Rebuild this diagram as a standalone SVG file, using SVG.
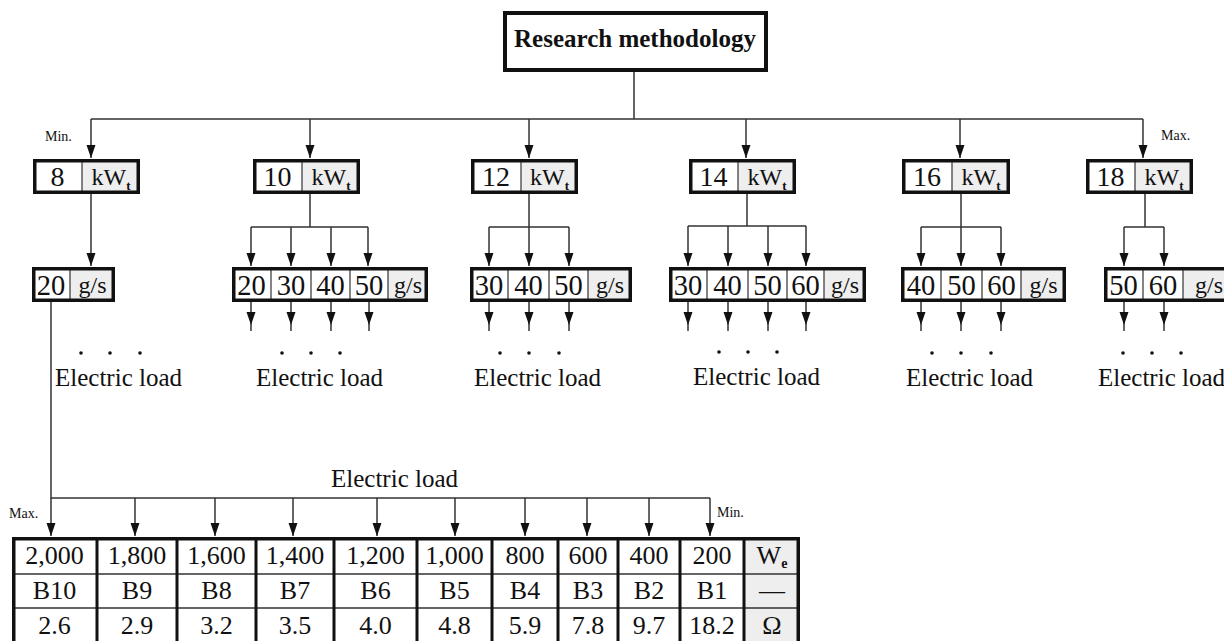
<svg xmlns="http://www.w3.org/2000/svg" width="1224" height="641" viewBox="0 0 1224 641">
<style>
.ln{stroke:#333;stroke-width:1.5;fill:none}
.bd{fill:none;stroke:#111;stroke-width:3.5}
.dv{stroke:#333;stroke-width:1.2}
.gr{fill:#eeeeee}
.t{font-family:"Liberation Serif","Times New Roman",serif;fill:#111;text-anchor:middle}
.n{font-size:28px}
.g{font-size:28.5px}
.u{font-size:24px}
.s{font-size:13px;font-weight:bold}
.el{font-family:"Liberation Serif","Times New Roman",serif;fill:#111;font-size:25px}
.sm{font-family:"Liberation Serif","Times New Roman",serif;fill:#111;font-size:14px}
.tb{font-size:26px}
.dot{fill:#111}
</style>
<defs>
<marker id="a" markerUnits="userSpaceOnUse" orient="auto" refX="13" refY="0" markerWidth="14" markerHeight="10" overflow="visible"><path d="M0,-4.5 L13,0 L0,4.5 z" fill="#111"/></marker>
<marker id="ad" markerUnits="userSpaceOnUse" orient="auto" refX="19" refY="0" markerWidth="14" markerHeight="10" overflow="visible"><path d="M0,-4.5 L13,0 L0,4.5 z" fill="#111"/></marker>
</defs>
<rect width="1224" height="641" fill="#fff"/>

<g id="connectors">
<path class="ln" d="M634,72 V119 M91,119 H1143"/>
<path class="ln" marker-end="url(#a)" d="M91,119 V158"/>
<path class="ln" marker-end="url(#a)" d="M310,119 V158"/>
<path class="ln" marker-end="url(#a)" d="M529,119 V158"/>
<path class="ln" marker-end="url(#a)" d="M746,119 V158"/>
<path class="ln" marker-end="url(#a)" d="M960,119 V158"/>
<path class="ln" marker-end="url(#a)" d="M1143,119 V158"/>
<path class="ln" marker-end="url(#a)" d="M91,194 V266"/>
<path class="ln" d="M310,194 V227 M251,227 H368"/>
<path class="ln" marker-end="url(#a)" d="M251,227 V266"/>
<path class="ln" marker-end="url(#a)" d="M291,227 V266"/>
<path class="ln" marker-end="url(#a)" d="M331,227 V266"/>
<path class="ln" marker-end="url(#a)" d="M368,227 V266"/>
<path class="ln" d="M529,194 V227 M489,227 H569"/>
<path class="ln" marker-end="url(#a)" d="M489,227 V266"/>
<path class="ln" marker-end="url(#a)" d="M529,227 V266"/>
<path class="ln" marker-end="url(#a)" d="M569,227 V266"/>
<path class="ln" d="M747,194 V226 M688,226 H806"/>
<path class="ln" marker-end="url(#a)" d="M688,226 V266"/>
<path class="ln" marker-end="url(#a)" d="M728,226 V266"/>
<path class="ln" marker-end="url(#a)" d="M768,226 V266"/>
<path class="ln" marker-end="url(#a)" d="M806,226 V266"/>
<path class="ln" d="M961,194 V227 M921,227 H1001"/>
<path class="ln" marker-end="url(#a)" d="M921,227 V266"/>
<path class="ln" marker-end="url(#a)" d="M961,227 V266"/>
<path class="ln" marker-end="url(#a)" d="M1001,227 V266"/>
<path class="ln" d="M1145,194 V227 M1124,227 H1164"/>
<path class="ln" marker-end="url(#a)" d="M1124,227 V266"/>
<path class="ln" marker-end="url(#a)" d="M1164,227 V266"/>
<g>
<path class="ln" marker-end="url(#ad)" d="M251,302 V331"/>
<path class="ln" marker-end="url(#ad)" d="M291,302 V331"/>
<path class="ln" marker-end="url(#ad)" d="M331,302 V331"/>
<path class="ln" marker-end="url(#ad)" d="M369,302 V331"/>
<path class="ln" marker-end="url(#ad)" d="M489,302 V331"/>
<path class="ln" marker-end="url(#ad)" d="M529,302 V331"/>
<path class="ln" marker-end="url(#ad)" d="M569,302 V331"/>
<path class="ln" marker-end="url(#ad)" d="M688,302 V331"/>
<path class="ln" marker-end="url(#ad)" d="M728,302 V331"/>
<path class="ln" marker-end="url(#ad)" d="M768,302 V331"/>
<path class="ln" marker-end="url(#ad)" d="M806,302 V331"/>
<path class="ln" marker-end="url(#ad)" d="M921,302 V331"/>
<path class="ln" marker-end="url(#ad)" d="M961,302 V331"/>
<path class="ln" marker-end="url(#ad)" d="M1001,302 V331"/>
<path class="ln" marker-end="url(#ad)" d="M1124,302 V331"/>
<path class="ln" marker-end="url(#ad)" d="M1164,302 V331"/>
</g>
<path class="ln" d="M51,302 V498 H710"/>
<path class="ln" marker-end="url(#a)" d="M51,498 V536"/>
<path class="ln" marker-end="url(#a)" d="M135,498 V536"/>
<path class="ln" marker-end="url(#a)" d="M215,498 V536"/>
<path class="ln" marker-end="url(#a)" d="M293,498 V536"/>
<path class="ln" marker-end="url(#a)" d="M377,498 V536"/>
<path class="ln" marker-end="url(#a)" d="M455,498 V536"/>
<path class="ln" marker-end="url(#a)" d="M525,498 V536"/>
<path class="ln" marker-end="url(#a)" d="M587,498 V536"/>
<path class="ln" marker-end="url(#a)" d="M649,498 V536"/>
<path class="ln" marker-end="url(#a)" d="M710,498 V536"/>
</g>

<g id="root">
<rect x="505" y="13" width="261" height="57" fill="#fff" stroke="#111" stroke-width="4"/>
<text class="t" x="635" y="47" font-size="25" font-weight="bold">Research methodology</text>
</g>

<g id="kw8">
<rect class="gr" x="82" y="159" width="58" height="35"/>
<line class="dv" x1="82" y1="159" x2="82" y2="194"/>
<rect class="bd" x="34.75" y="160.75" width="103.5" height="31.5"/>
<text class="t n" x="57.5" y="186">8</text>
<text class="t u" x="111" y="185">kW<tspan class="s" dy="5">t</tspan></text>
</g>
<g id="kw10">
<rect class="gr" x="302" y="159" width="58" height="35"/>
<line class="dv" x1="302" y1="159" x2="302" y2="194"/>
<rect class="bd" x="254.75" y="160.75" width="103.5" height="31.5"/>
<text class="t n" x="277.5" y="186">10</text>
<text class="t u" x="331" y="185">kW<tspan class="s" dy="5">t</tspan></text>
</g>
<g id="kw12">
<rect class="gr" x="521" y="159" width="57" height="35"/>
<line class="dv" x1="521" y1="159" x2="521" y2="194"/>
<rect class="bd" x="472.75" y="160.75" width="103.5" height="31.5"/>
<text class="t n" x="496" y="186">12</text>
<text class="t u" x="549.5" y="185">kW<tspan class="s" dy="5">t</tspan></text>
</g>
<g id="kw14">
<rect class="gr" x="738" y="159" width="58" height="35"/>
<line class="dv" x1="738" y1="159" x2="738" y2="194"/>
<rect class="bd" x="690.75" y="160.75" width="103.5" height="31.5"/>
<text class="t n" x="713.5" y="186">14</text>
<text class="t u" x="767" y="185">kW<tspan class="s" dy="5">t</tspan></text>
</g>
<g id="kw16">
<rect class="gr" x="952" y="159" width="58" height="35"/>
<line class="dv" x1="952" y1="159" x2="952" y2="194"/>
<rect class="bd" x="903.75" y="160.75" width="104.5" height="31.5"/>
<text class="t n" x="927" y="186">16</text>
<text class="t u" x="981" y="185">kW<tspan class="s" dy="5">t</tspan></text>
</g>
<g id="kw18">
<rect class="gr" x="1135" y="159" width="58" height="35"/>
<line class="dv" x1="1135" y1="159" x2="1135" y2="194"/>
<rect class="bd" x="1087.75" y="160.75" width="103.5" height="31.5"/>
<text class="t n" x="1110.5" y="186">18</text>
<text class="t u" x="1164" y="185">kW<tspan class="s" dy="5">t</tspan></text>
</g>

<g id="gs8">
<rect class="gr" x="70" y="267" width="45" height="35"/>
<line class="dv" x1="70" y1="267" x2="70" y2="302"/>
<rect class="bd" x="33.75" y="268.75" width="79.5" height="31.5"/>
<text class="t g" x="51" y="295">20</text>
<text class="t u" x="92.5" y="293">g/s</text>
</g>
<g id="gs10">
<rect class="gr" x="388" y="267" width="40" height="35"/>
<path class="dv" d="M271,267 V302 M311,267 V302 M350,267 V302 M388,267 V302"/>
<rect class="bd" x="233.75" y="268.75" width="192.5" height="31.5"/>
<text class="t g" x="251.5" y="295">20</text>
<text class="t g" x="291" y="295">30</text>
<text class="t g" x="330.5" y="295">40</text>
<text class="t g" x="369" y="295">50</text>
<text class="t u" x="408" y="293">g/s</text>
</g>
<g id="gs12">
<rect class="gr" x="588" y="267" width="44" height="35"/>
<path class="dv" d="M508,267 V302 M549,267 V302 M588,267 V302"/>
<rect class="bd" x="471.75" y="268.75" width="158.5" height="31.5"/>
<text class="t g" x="489" y="295">30</text>
<text class="t g" x="528.5" y="295">40</text>
<text class="t g" x="568.5" y="295">50</text>
<text class="t u" x="610" y="293">g/s</text>
</g>
<g id="gs14">
<rect class="gr" x="824" y="267" width="42" height="35"/>
<path class="dv" d="M707,267 V302 M748,267 V302 M787,267 V302 M824,267 V302"/>
<rect class="bd" x="670.75" y="268.75" width="193.5" height="31.5"/>
<text class="t g" x="688" y="295">30</text>
<text class="t g" x="727.5" y="295">40</text>
<text class="t g" x="767.5" y="295">50</text>
<text class="t g" x="805.5" y="295">60</text>
<text class="t u" x="845" y="293">g/s</text>
</g>
<g id="gs16">
<rect class="gr" x="1021" y="267" width="45" height="35"/>
<path class="dv" d="M941,267 V302 M982,267 V302 M1021,267 V302"/>
<rect class="bd" x="902.75" y="268.75" width="161.5" height="31.5"/>
<text class="t g" x="921" y="295">40</text>
<text class="t g" x="961.5" y="295">50</text>
<text class="t g" x="1001.5" y="295">60</text>
<text class="t u" x="1043.5" y="293">g/s</text>
</g>
<g id="gs18">
<rect class="gr" x="1183" y="267" width="53" height="35"/>
<path class="dv" d="M1143,267 V302 M1183,267 V302"/>
<rect class="bd" x="1105.75" y="268.75" width="128.5" height="31.5"/>
<text class="t g" x="1123.5" y="295">50</text>
<text class="t g" x="1163" y="295">60</text>
<text class="t u" x="1209" y="293">g/s</text>
</g>

<g id="loads">
<circle class="dot" cx="81" cy="353" r="1.8"/><circle class="dot" cx="110" cy="353" r="1.8"/><circle class="dot" cx="140" cy="353" r="1.8"/>
<text class="el" x="55" y="386">Electric load</text>
<circle class="dot" cx="282" cy="353" r="1.8"/><circle class="dot" cx="311" cy="353" r="1.8"/><circle class="dot" cx="340" cy="353" r="1.8"/>
<text class="el" x="256" y="386">Electric load</text>
<circle class="dot" cx="500" cy="353" r="1.8"/><circle class="dot" cx="529" cy="353" r="1.8"/><circle class="dot" cx="559" cy="353" r="1.8"/>
<text class="el" x="474" y="386">Electric load</text>
<circle class="dot" cx="719" cy="352" r="1.8"/><circle class="dot" cx="748" cy="352" r="1.8"/><circle class="dot" cx="777" cy="352" r="1.8"/>
<text class="el" x="693" y="385">Electric load</text>
<circle class="dot" cx="932" cy="353" r="1.8"/><circle class="dot" cx="961" cy="353" r="1.8"/><circle class="dot" cx="991" cy="353" r="1.8"/>
<text class="el" x="906" y="386">Electric load</text>
<circle class="dot" cx="1123" cy="353" r="1.8"/><circle class="dot" cx="1152" cy="353" r="1.8"/><circle class="dot" cx="1181" cy="353" r="1.8"/>
<text class="el" x="1098" y="386">Electric load</text>
<text class="el" x="331" y="487">Electric load</text>
</g>

<g id="labels">
<text class="sm" x="45" y="141">Min.</text>
<text class="sm" x="1161" y="140">Max.</text>
<text class="sm" x="9" y="518">Max.</text>
<text class="sm" x="717" y="517">Min.</text>
</g>

<g id="table">
<rect x="744" y="537" width="56" height="110" fill="#eeeeee"/>
<path stroke="#333" stroke-width="1.5" d="M12,574 H800 M12,608 H800"/>
<path stroke="#111" stroke-width="3" d="M97,537 V645 M177,537 V645 M256,537 V645 M334,537 V645 M417,537 V645 M492,537 V645 M558,537 V645 M618,537 V645 M680,537 V645 M744,537 V645"/>
<rect x="13.75" y="538.75" width="784.5" height="120" fill="none" stroke="#111" stroke-width="3.5"/>
<g class="t tb">
<text x="54.5" y="564">2,000</text><text x="137" y="564">1,800</text><text x="216.5" y="564">1,600</text><text x="295" y="564">1,400</text><text x="375.5" y="564">1,200</text><text x="454.5" y="564">1,000</text><text x="525" y="564">800</text><text x="588" y="564">600</text><text x="649" y="564">400</text><text x="712" y="564">200</text>
<text x="772" y="564">W<tspan font-size="14" font-weight="bold" dy="4">e</tspan></text>
<text x="54.5" y="599">B10</text><text x="137" y="599">B9</text><text x="216.5" y="599">B8</text><text x="295" y="599">B7</text><text x="375.5" y="599">B6</text><text x="454.5" y="599">B5</text><text x="525" y="599">B4</text><text x="588" y="599">B3</text><text x="649" y="599">B2</text><text x="712" y="599">B1</text><text x="772" y="599">—</text>
<text x="54.5" y="634">2.6</text><text x="137" y="634">2.9</text><text x="216.5" y="634">3.2</text><text x="295" y="634">3.5</text><text x="375.5" y="634">4.0</text><text x="454.5" y="634">4.8</text><text x="525" y="634">5.9</text><text x="588" y="634">7.8</text><text x="649" y="634">9.7</text><text x="712" y="634">18.2</text><text x="772" y="634">Ω</text>
</g>
</g>
</svg>
